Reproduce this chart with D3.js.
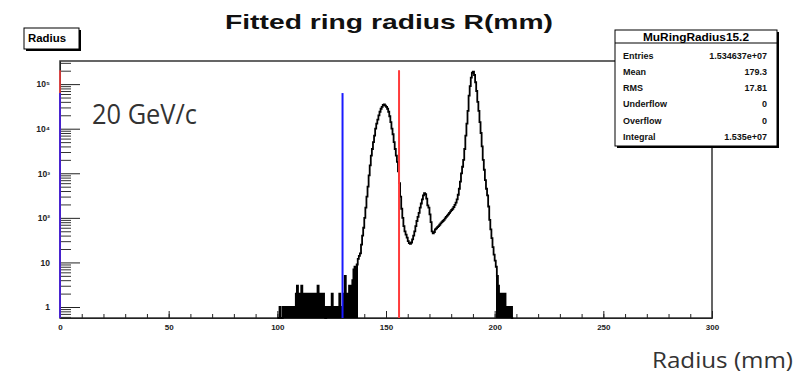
<!DOCTYPE html>
<html>
<head>
<meta charset="utf-8">
<script src="https://cdn.jsdelivr.net/npm/d3@7"></script>
<style>
  body { margin: 0; background: #fff; }
  svg { display: block; font-family: "Liberation Sans", Arial, sans-serif; }
</style>
</head>
<body>
<div id="chart"></div>
<script>
// histogram: 0.5 mm bins starting at binStart
const binStart = 100;
const binWidth = 0.5;
const counts = [
  0, 0, 1, 0, 0, 1, 1, 1, 1, 1,                       // 100.0-104.5
  1, 1, 1, 1, 1, 1, 1, 2, 3, 2,                       // 105.0-109.5
  2, 2, 3, 2, 2, 2, 2, 2, 2, 2,                       // 110.0-114.5
  2, 2, 2, 1, 2, 2, 2, 3, 2, 2,                       // 115.0-119.5
  2, 1, 2, 1, 0, 1, 1, 1, 1, 1,                       // 120.0-124.5
  2, 1, 1, 1, 1, 1, 1, 2, 1, 1,                       // 125.0-129.5
  1, 2, 5, 1, 2, 1, 3, 3, 2, 4,                       // 130.0-134.5
  7, 8, 7, 9, 12, 14, 16, 25, 40, 60,                 // 135.0-139.5
  100, 170, 300, 500, 900, 1500, 2500, 3500, 5000, 7000,            // 140.0-144.5
  10000, 13000, 16000, 20000, 24000, 28000, 31000, 34000, 35000, 33000, // 145.0-149.5
  31000, 28000, 24000, 19000, 14000, 10000, 7500, 5000, 3500, 2500,  // 150.0-154.5
  1800, 1100, 600, 300, 160, 100, 65, 50, 42, 36,                    // 155.0-159.5
  30, 27, 26, 28, 33, 40, 50, 65, 85, 105,                           // 160.0-164.5
  130, 170, 210, 260, 320, 360, 340, 270, 190, 170,                  // 165.0-169.5
  120, 80, 50, 45, 48, 55, 58, 62, 65, 70,                           // 170.0-174.5
  75, 80, 85, 90, 97, 105, 112, 120, 130, 140,                       // 175.0-179.5
  150, 160, 175, 195, 220, 260, 330, 450, 650, 1000,                 // 180.0-184.5
  1400, 2000, 3500, 7000, 13000, 25000, 55000, 90000, 140000, 180000, // 185.0-189.5
  190000, 160000, 110000, 70000, 40000, 25000, 14000, 8000, 4000, 2000, // 190.0-194.5
  1200, 700, 450, 320, 180, 90, 55, 35, 22, 15,                      // 195.0-199.5
  11, 8, 5, 3, 2, 2, 2, 2, 2, 2,                                     // 200.0-204.5
  1, 1, 1, 1, 1, 1, 0                                                // 205.0-208.0
];

const xDomain = [0, 300];
const yDomain = [0.567, 3.3e5];
const xMajor = [0, 50, 100, 150, 200, 250, 300];
const xMinor = d3.range(0, 301, 10);
const yDecades = [1, 10, 100, 1000, 10000, 100000];
const yLabels = ["1", "10", "10²", "10³", "10⁴", "10⁵"];

// vertical cut markers (x in mm, top in counts)
const cutLines = [
  { x: 156, top: 2.05e5, color: "#ff3b3b" },
  { x: 130, top: 6.3e4, color: "#1a1aff" }
];

const statsTitle = "MuRingRadius15.2";
const statsRows = [
  ["Entries", "1.534637e+07"],
  ["Mean", "179.3"],
  ["RMS", "17.81"],
  ["Underflow", "0"],
  ["Overflow", "0"],
  ["Integral", "1.535e+07"]
];

const width = 807, height = 374;
const margin = { top: 61, right: 95, bottom: 56, left: 60 };
const fillLimit = 10;

const svg = d3.select("#chart").append("svg")
  .attr("width", width)
  .attr("height", height);

const x = d3.scaleLinear().domain(xDomain).range([margin.left, width - margin.right]);
const y = d3.scaleLog().domain(yDomain).range([height - margin.bottom, margin.top]);
const yBottom = y.range()[0];

// frame
svg.append("rect")
  .attr("x", x(0)).attr("y", y.range()[1])
  .attr("width", x(300) - x(0)).attr("height", yBottom - y.range()[1])
  .attr("fill", "none").attr("stroke", "#333").attr("stroke-width", 1.5);

// x axis, minor then major
svg.append("g")
  .attr("transform", `translate(0,${yBottom})`)
  .call(d3.axisBottom(x).tickValues(xMinor).tickSize(-4).tickSizeOuter(0).tickFormat(""))
  .call(g => g.select(".domain").remove())
  .call(g => g.selectAll("line").attr("stroke", "#222"));

svg.append("g")
  .attr("transform", `translate(0,${yBottom})`)
  .call(d3.axisBottom(x).tickValues(xMajor).tickSize(-7).tickSizeOuter(0).tickPadding(6).tickFormat(d3.format("d")))
  .call(g => g.select(".domain").attr("stroke", "#222"))
  .call(g => g.selectAll("line").attr("stroke", "#222"))
  .call(g => g.selectAll("text").attr("font-size", 8).attr("font-weight", "bold").attr("fill", "#222"));

// y axis (log), minor ticks 2..9 x 10^n
const yMinor = [];
for (let e = -1; e <= 5; e++) {
  for (let m = 2; m <= 9; m++) {
    const v = m * Math.pow(10, e);
    if (v >= yDomain[0] && v <= yDomain[1]) yMinor.push(v);
  }
}

svg.append("g")
  .attr("transform", `translate(${x(0)},0)`)
  .call(d3.axisLeft(y).tickValues(yMinor).tickSize(-11).tickSizeOuter(0).tickFormat(""))
  .call(g => g.select(".domain").remove())
  .call(g => g.selectAll("line").attr("stroke", "#333"));

svg.append("g")
  .attr("transform", `translate(${x(0)},0)`)
  .call(d3.axisLeft(y).tickValues(yDecades).tickSize(-20).tickSizeOuter(0).tickPadding(10)
    .tickFormat((d, i) => yLabels[i]))
  .call(g => g.select(".domain").attr("stroke", "#222"))
  .call(g => g.selectAll("line").attr("stroke", "#222"))
  .call(g => g.selectAll("text").attr("font-size", 8.5).attr("font-weight", "bold").attr("fill", "#222"));

// histogram: low-stat bins look solid at fine binning, fill them
const bins = counts.map((c, i) => ({ x0: binStart + i * binWidth, v: c }));

svg.append("g")
  .attr("shape-rendering", "crispEdges")
  .selectAll("rect")
  .data(bins.filter(d => d.v > 0 && d.v <= fillLimit))
  .join("rect")
  .attr("x", d => x(d.x0))
  .attr("width", d => x(d.x0 + binWidth) - x(d.x0) + 0.4)
  .attr("y", d => y(d.v))
  .attr("height", d => yBottom - y(d.v))
  .attr("fill", "#000");

const stepPts = bins.map(d => [d.x0, d.v]);
stepPts.push([binStart + counts.length * binWidth, counts[counts.length - 1]]);

const histLine = d3.line()
  .x(d => x(d[0]))
  .y(d => y(Math.max(d[1], yDomain[0])))
  .curve(d3.curveStepAfter);

svg.append("path")
  .datum(stepPts)
  .attr("fill", "none")
  .attr("stroke", "#000")
  .attr("stroke-width", 1.8)
  .attr("d", histLine);

// cut lines, plus the copies sitting on the y axis
cutLines.forEach(c => {
  [0, c.x].forEach(xv => {
    svg.append("line")
      .attr("x1", x(xv)).attr("x2", x(xv))
      .attr("y1", y(c.top)).attr("y2", yBottom)
      .attr("stroke", c.color)
      .attr("stroke-width", xv === 0 ? 1.5 : 2);
  });
});

// title
svg.append("text")
  .attr("x", 225).attr("y", 29)
  .attr("textLength", 328).attr("lengthAdjust", "spacingAndGlyphs")
  .attr("font-size", 21).attr("font-weight", "bold").attr("fill", "#111")
  .text("Fitted ring radius R(mm)");

// "Radius" name box
const nameBox = svg.append("g");
nameBox.append("rect").attr("x", 26).attr("y", 30).attr("width", 55).attr("height", 21).attr("fill", "#000");
nameBox.append("rect").attr("x", 24).attr("y", 28).attr("width", 55).attr("height", 21)
  .attr("fill", "#fff").attr("stroke", "#000").attr("stroke-width", 1);
nameBox.append("text")
  .attr("x", 28).attr("y", 42)
  .attr("textLength", 38).attr("lengthAdjust", "spacingAndGlyphs")
  .attr("font-size", 10).attr("font-weight", "bold")
  .text("Radius");

// stats box
const sb = { x: 615, y: 30, w: 162, h: 116 };
const stats = svg.append("g");
stats.append("rect").attr("x", sb.x + 2).attr("y", sb.y + 2).attr("width", sb.w).attr("height", sb.h).attr("fill", "#000");
stats.append("rect").attr("x", sb.x).attr("y", sb.y).attr("width", sb.w).attr("height", sb.h)
  .attr("fill", "#fff").attr("stroke", "#000").attr("stroke-width", 1);
stats.append("line")
  .attr("x1", sb.x).attr("x2", sb.x + sb.w)
  .attr("y1", sb.y + 13).attr("y2", sb.y + 13)
  .attr("stroke", "#000");
stats.append("text")
  .attr("x", sb.x + sb.w / 2).attr("y", sb.y + 10.5)
  .attr("text-anchor", "middle")
  .attr("textLength", 106).attr("lengthAdjust", "spacingAndGlyphs")
  .attr("font-size", 10.5).attr("font-weight", "bold")
  .text(statsTitle);

statsRows.forEach((r, i) => {
  const ty = sb.y + 28.5 + i * 16.3;
  stats.append("text")
    .attr("x", sb.x + 8).attr("y", ty)
    .attr("font-size", 9).attr("font-weight", "bold").attr("fill", "#111")
    .text(r[0]);
  stats.append("text")
    .attr("x", sb.x + 152).attr("y", ty)
    .attr("text-anchor", "end")
    .attr("font-size", 9).attr("font-weight", "bold").attr("fill", "#111")
    .text(r[1]);
});

// annotations
svg.append("text")
  .attr("x", 92).attr("y", 124)
  .attr("textLength", 105).attr("lengthAdjust", "spacingAndGlyphs")
  .attr("font-family", "'Open Sans', 'Noto Sans', sans-serif")
  .attr("font-size", 28).attr("fill", "#333")
  .text("20 GeV/c");

svg.append("text")
  .attr("x", 652).attr("y", 368)
  .attr("textLength", 141).attr("lengthAdjust", "spacingAndGlyphs")
  .attr("font-family", "'Open Sans', 'Noto Sans', sans-serif")
  .attr("font-size", 22).attr("fill", "#333")
  .text("Radius (mm)");
</script>
</body>
</html>
